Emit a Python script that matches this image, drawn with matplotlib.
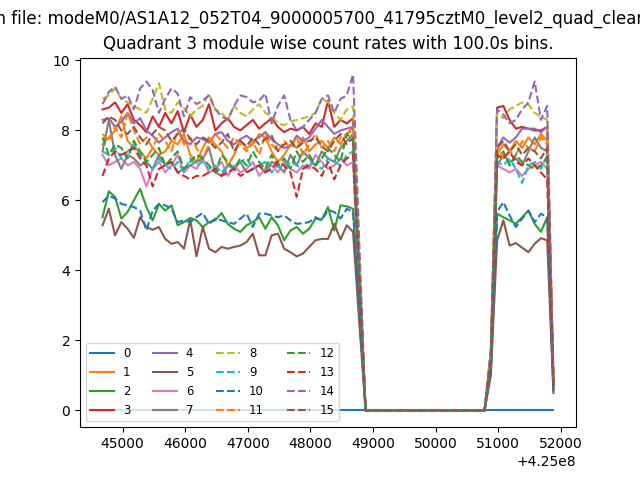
import numpy as np
import matplotlib
matplotlib.use("Agg")
import matplotlib.pyplot as plt

# time bins (100 s) : bin k -> T0 + 100*k, k = 0..72
T0 = 425044680
BIN = 100.0
NBINS = 73

modules = list(range(16))

# first good-time segment (bins 0..40)
seg1 = {
    1: [7.6,7.8,8.0,8.4,7.7,7.5,7.4,7.2,7.5,7.3,7.4,7.7,7.6,7.9,7.3,7.1,7.5,7.8,7.6,7.4,7.0,7.3,7.7,7.5,7.6,7.9,7.8,7.4,7.1,7.3,7.6,7.5,7.8,7.4,7.6,7.7,7.5,7.8,7.6,7.9,8.1],
    2: [5.52,6.26,6.1,5.48,5.67,6.0,6.33,5.81,5.43,5.9,5.71,5.86,5.29,5.38,5.5,5.43,5.24,5.38,5.43,5.64,5.33,5.19,5.1,5.29,5.38,5.52,5.19,5.52,5.29,4.86,5.14,5.24,5.05,5.19,5.48,5.45,5.81,5.14,5.86,5.83,5.76],
    3: [8.6,8.65,8.8,8.5,8.75,8.3,8.15,7.95,8.4,8.1,8.5,8.2,8.55,7.95,8.45,8.1,8.3,8.75,8.0,8.2,8.35,8.1,8.0,8.15,8.3,8.05,8.2,8.35,8.1,7.95,8.05,8.0,8.1,7.9,8.2,8.1,8.85,8.1,8.3,8.2,8.35],
    4: [8.3,8.35,8.1,8.25,8.5,8.2,8.35,8.0,7.85,7.65,7.8,7.95,8.05,7.7,7.6,7.8,7.75,7.65,7.9,7.95,7.7,7.6,7.75,7.85,7.7,7.8,7.95,7.75,7.6,7.5,7.55,7.85,7.7,7.8,8.05,8.3,8.1,7.9,8.0,8.05,8.1],
    5: [5.29,5.76,5.0,5.38,5.19,4.93,5.52,5.24,5.16,5.24,4.9,4.76,4.81,4.62,5.45,4.4,5.24,4.62,4.52,4.67,4.62,4.67,4.71,4.81,5.05,4.43,4.43,5.0,5.05,4.62,4.52,4.4,4.48,4.67,4.86,4.9,4.9,5.33,4.88,5.29,5.1],
    6: [7.3,7.0,7.1,7.2,7.0,7.1,6.9,6.4,6.9,7.1,6.8,7.0,7.3,6.8,7.0,6.9,7.2,6.8,6.9,7.1,6.7,7.0,6.8,6.9,7.1,6.7,6.9,7.0,6.8,7.1,6.9,6.8,7.0,6.9,7.3,7.1,6.9,7.0,7.2,7.0,7.1],
    7: [7.4,8.3,7.3,6.9,7.3,7.2,7.0,7.1,6.9,7.3,7.0,7.1,6.8,6.9,7.0,7.1,7.2,7.5,6.8,6.7,7.0,6.9,7.1,6.8,6.9,7.0,6.8,7.1,7.0,6.8,7.3,7.0,7.4,7.2,7.0,7.4,7.2,7.1,7.5,7.7,7.9],
    8: [8.9,9.0,9.2,8.9,8.8,8.7,8.6,8.5,8.9,9.35,8.6,8.5,8.8,8.65,8.4,8.6,8.7,9.05,8.6,8.5,8.3,8.7,8.5,8.4,8.6,8.75,8.5,8.4,8.2,8.15,8.25,8.3,8.35,8.4,8.5,8.9,8.8,8.5,8.3,8.6,8.7],
    9: [7.4,7.3,7.5,7.2,7.4,7.6,7.3,7.1,6.9,7.2,7.0,6.9,7.1,6.8,7.2,7.0,7.1,6.9,7.0,6.8,7.0,6.9,7.1,7.2,6.9,7.0,7.1,6.8,7.0,6.9,7.1,7.0,6.9,7.1,7.0,6.9,7.2,7.1,7.0,7.3,7.4],
    10: [5.95,6.14,6.05,5.9,5.86,5.81,5.71,5.14,5.71,5.9,5.86,5.76,5.38,5.43,5.38,5.52,5.64,5.33,5.48,5.43,5.38,5.33,5.48,5.62,5.24,5.62,5.62,5.57,5.52,5.57,5.43,5.33,5.35,5.38,5.52,5.43,5.73,5.67,5.48,5.76,5.67],
    11: [7.9,7.7,8.1,7.8,8.5,8.0,7.6,7.8,7.5,7.9,7.7,7.4,8.0,7.6,7.8,7.5,7.2,7.6,7.9,7.7,7.5,7.8,7.6,7.4,7.7,7.3,7.9,7.6,7.4,7.7,7.5,7.8,7.3,7.6,7.9,7.5,7.7,7.4,7.8,7.9,8.0],
    12: [7.8,7.3,7.6,7.5,7.2,7.7,7.4,7.1,7.3,7.5,7.0,7.2,7.4,6.9,7.1,7.3,7.2,7.0,6.8,7.3,7.1,6.9,7.2,7.0,7.4,7.1,6.9,7.3,7.0,7.2,6.9,7.4,7.1,7.3,7.0,7.2,7.5,7.3,7.1,7.9,7.7],
    13: [6.7,7.2,7.4,7.3,7.4,7.5,7.2,7.0,6.4,6.9,7.0,7.1,6.8,6.7,6.6,6.7,6.7,6.8,6.9,6.7,6.8,6.9,6.7,6.8,6.9,7.0,6.8,6.9,7.1,7.0,6.8,6.1,6.9,7.0,6.9,6.7,7.1,6.6,7.0,7.2,7.3],
    14: [8.75,9.1,9.25,8.9,9.0,8.6,9.2,9.4,9.15,8.5,8.9,9.2,9.05,8.4,8.95,8.75,8.85,9.0,8.6,8.4,8.3,8.7,9.0,8.95,8.8,8.85,9.05,8.2,8.7,9.0,8.3,8.0,8.1,8.3,8.5,8.9,9.0,8.5,8.9,9.0,9.6],
    15: [8.2,8.4,8.3,8.0,7.9,8.1,7.8,7.6,7.9,8.1,8.0,7.7,7.9,8.05,7.75,7.6,7.8,7.7,7.5,7.65,7.9,7.4,7.7,7.55,7.8,7.6,7.75,7.85,7.4,7.6,7.7,7.5,7.65,7.7,7.8,7.55,7.4,7.7,7.9,7.6,7.8],
}

# partial bin at the end of the first segment (bin 41)
drop_mid = {1:4.0, 2:2.9, 3:4.2, 4:4.0, 5:2.5, 6:3.5, 7:3.9, 8:4.3, 9:3.7,
            10:2.8, 11:4.0, 12:3.8, 13:3.6, 14:4.8, 15:3.9}
# bins 42..61 are empty
GAP_BINS = 20
# partial bin at the start of the second segment (bin 62)
rise = {1:1.5, 2:1.1, 3:1.7, 4:1.5, 5:1.0, 6:1.4, 7:1.4, 8:1.7, 9:1.4,
        10:1.1, 11:1.5, 12:1.4, 13:1.4, 14:1.7, 15:1.5}

# second good-time segment (bins 63..71)
seg2 = {
    1: [7.3,7.6,7.4,7.7,7.5,7.8,7.6,7.9,7.7],
    2: [5.62,5.52,5.43,5.33,5.52,5.71,5.33,5.1,5.52],
    3: [8.65,8.7,8.3,8.05,8.1,8.05,8.0,8.0,8.1],
    4: [7.5,7.8,7.65,7.8,8.05,8.05,8.05,7.95,8.1],
    5: [4.86,5.43,4.71,4.78,4.65,4.52,4.76,4.92,4.86],
    6: [7.0,6.9,6.8,6.9,6.7,6.9,7.0,7.1,6.9],
    7: [7.0,7.3,7.1,7.2,7.0,7.4,7.8,7.5,7.4],
    8: [8.5,8.35,8.6,8.7,8.8,8.75,8.5,8.4,8.3],
    9: [7.1,7.0,7.2,6.9,6.5,7.0,7.1,6.9,7.3],
    10: [5.67,5.95,5.57,5.24,5.48,5.71,5.38,5.62,5.52],
    11: [7.6,7.2,7.4,7.3,7.7,7.5,7.4,7.8,7.6],
    12: [7.2,7.4,7.0,7.3,7.1,7.0,6.9,7.0,7.2],
    13: [7.3,7.2,7.4,7.1,7.0,7.2,7.0,6.8,6.6],
    14: [8.6,8.45,8.2,8.3,8.6,8.8,9.4,8.3,8.7],
    15: [7.5,7.7,7.4,7.6,7.3,7.5,7.4,7.2,7.5],
}
# partial last bin (bin 72)
tail = {1:0.8, 2:0.57, 3:0.85, 4:0.8, 5:0.5, 6:0.7, 7:0.75, 8:0.85, 9:0.7,
        10:0.55, 11:0.8, 12:0.7, 13:0.7, 14:0.9, 15:0.75}

times = T0 + BIN * np.arange(NBINS)

fig, ax = plt.subplots(figsize=(6.4, 4.8), dpi=100)
colors = plt.rcParams['axes.prop_cycle'].by_key()['color']
for m in modules:
    if m == 0:
        rates = np.zeros(NBINS)
    else:
        rates = np.array(seg1[m] + [drop_mid[m]] + [0.0] * GAP_BINS
                         + [rise[m]] + seg2[m] + [tail[m]])
    ls = '-' if m < 8 else '--'
    ax.plot(times, rates, ls, color=colors[m % 10], label=str(m))

ax.legend(loc='lower left', ncol=4, fontsize='small')
ax.set_title("Quadrant 3 module wise count rates with 100.0s bins.")
fig.suptitle("Data in file: modeM0/AS1A12_052T04_9000005700_41795cztM0_level2_quad_clean.evt",
             x=0.4875)
fig.savefig("out.png")
